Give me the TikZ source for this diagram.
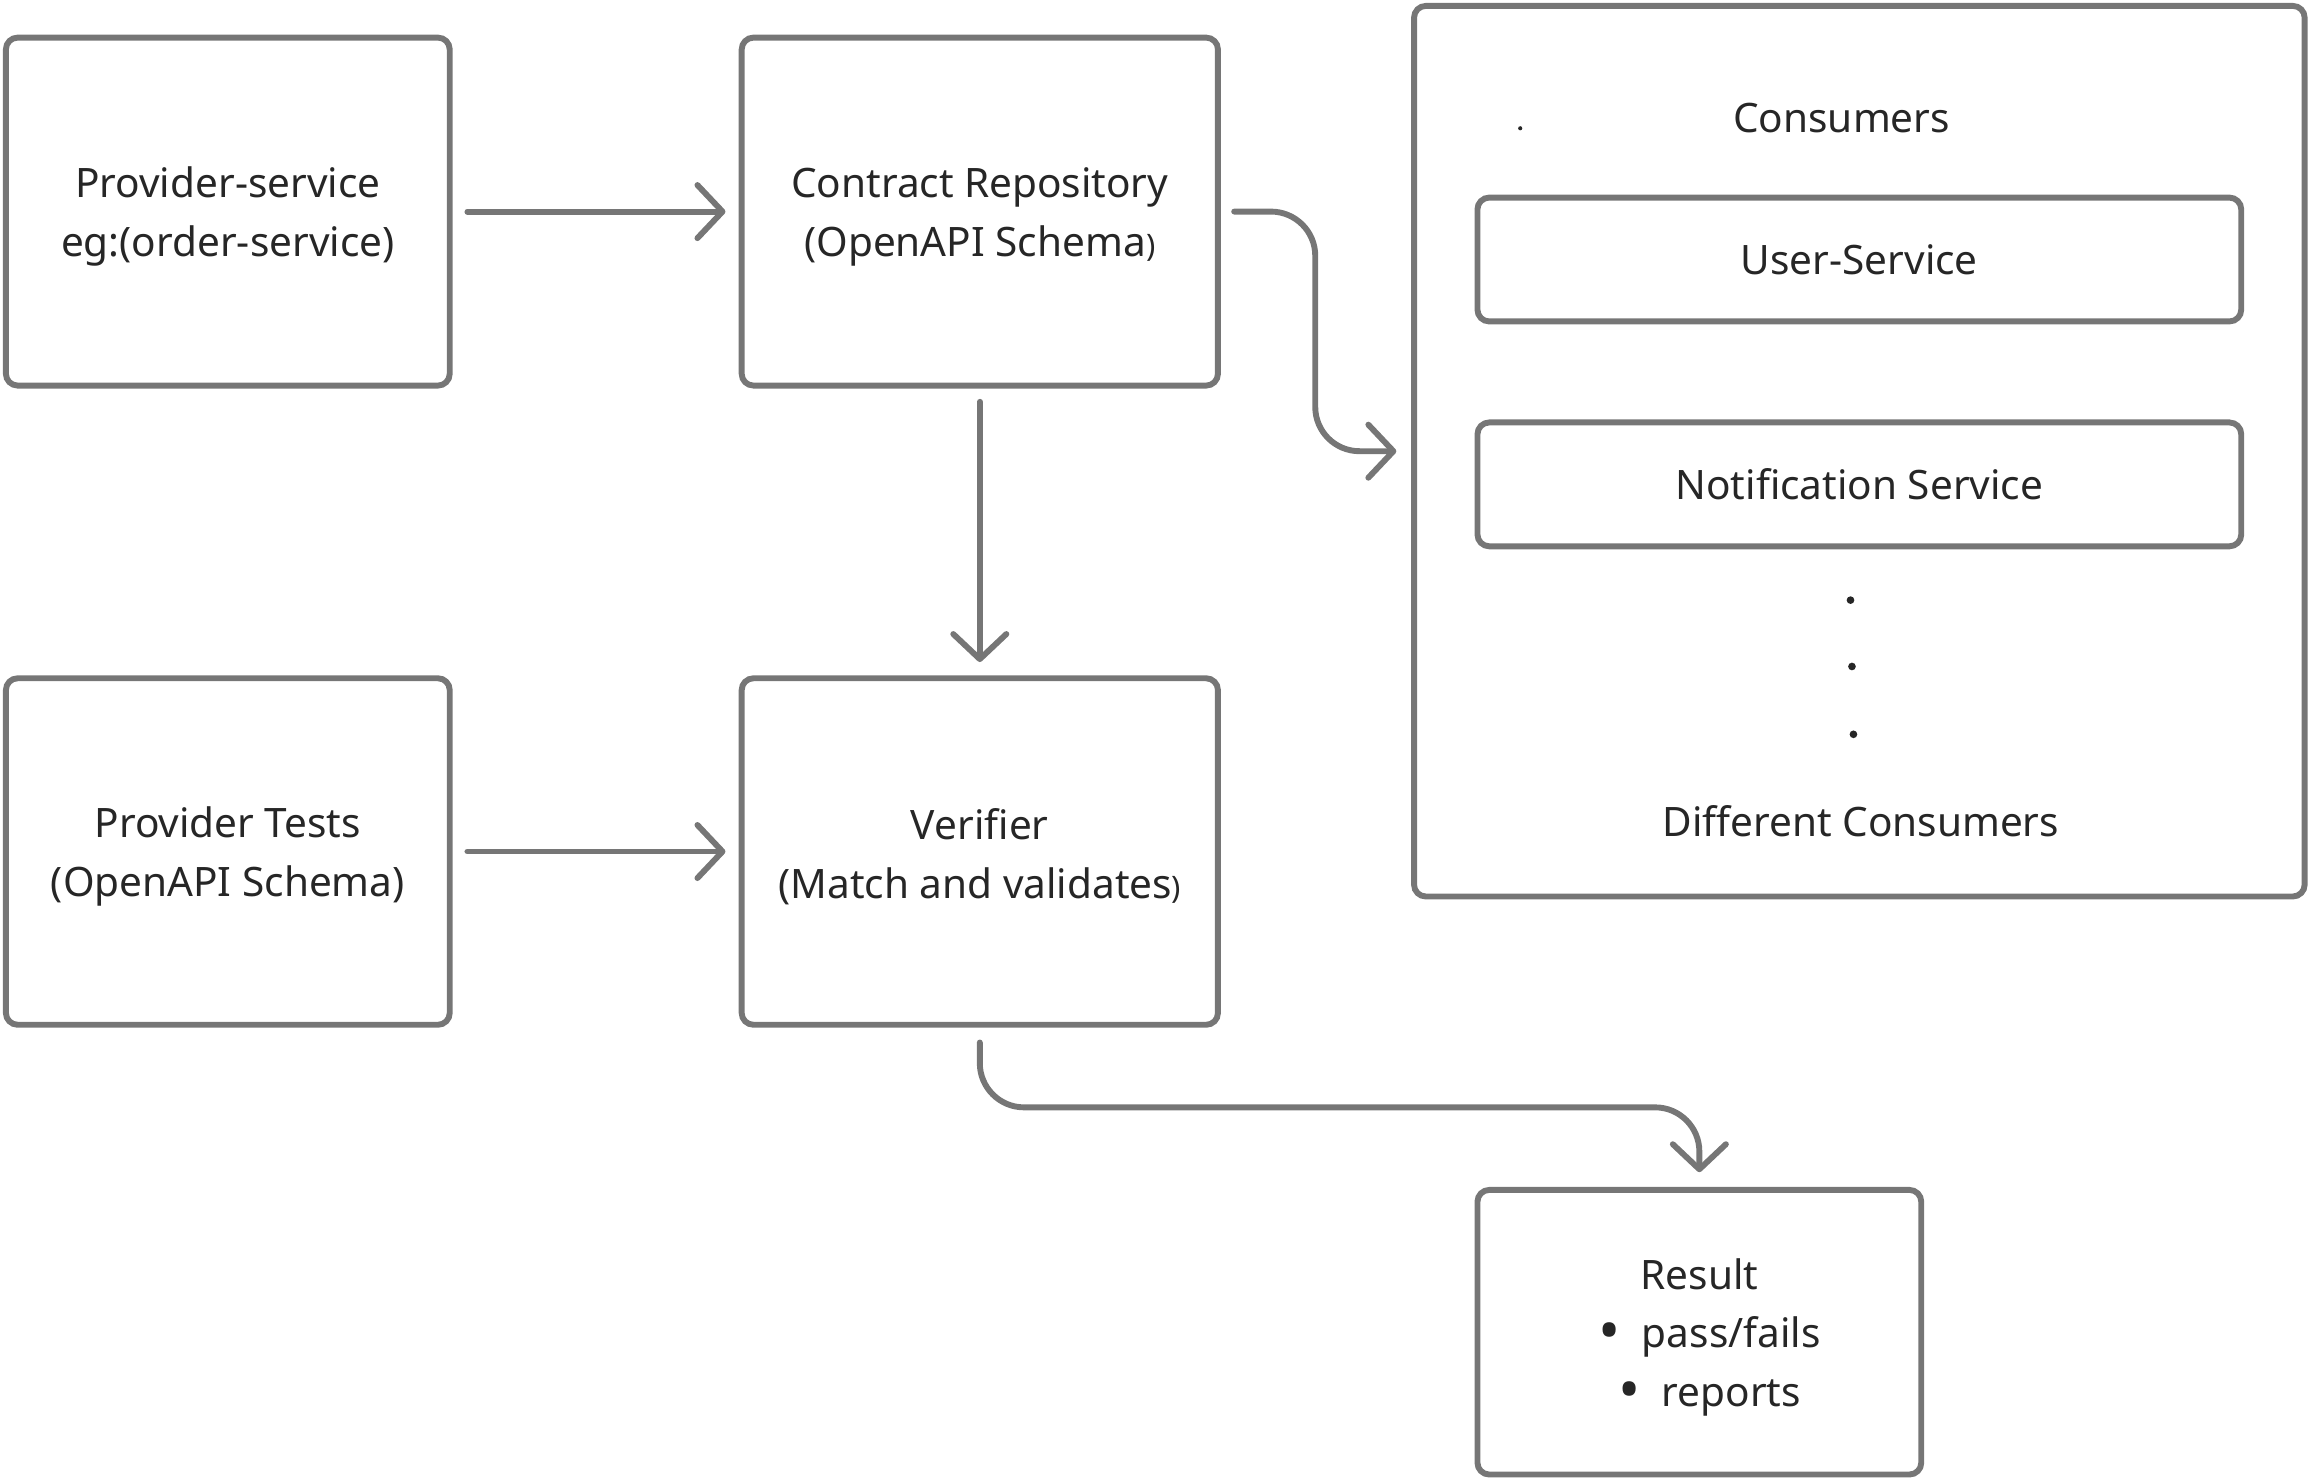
\documentclass[tikz,border=0pt]{standalone}
\usepackage{fontspec}
\setmainfont{Noto Sans}
\usetikzlibrary{arrows.meta}
\definecolor{linec}{HTML}{767676}
\definecolor{textc}{HTML}{262626}
\tikzset{
  box/.style={draw=linec, line width=4pt, rounded corners=8pt, inner sep=0pt,
    align=center, text=textc, font=\fontsize{27.5}{40}\selectfont},
  lbl/.style={inner sep=0pt, text=textc, font=\fontsize{27.5}{40}\selectfont, align=center},
  conn/.style={draw=linec, line width=4pt, line cap=round, line join=round,
    -{Straight Barb[length=17pt,width=36pt,round]}},
}
\newcommand{\smp}{{\fontsize{21}{40}\selectfont)}}
\newcommand{\tstr}{\rule{0pt}{28pt}}
\newcommand{\bul}{{\fontsize{40}{40}\selectfont\raisebox{-0.06em}{•}}}
\begin{document}
\begin{tikzpicture}[x=1pt,y=-1pt]
\useasboundingbox (0,0) rectangle (1568,1004);
% boxes
\node[box, minimum width=301pt, minimum height=236pt] (prov) at (154.5,143.5) {\tstr Provider-service\\eg:(order-service)};
\node[box, minimum width=323pt, minimum height=236pt] (repo) at (664.5,143.5) {\tstr Contract Repository\\(OpenAPI Schema\smp};
\node[box, minimum width=604pt, minimum height=604pt] (cons) at (1261,306) {};
\node[box, minimum width=518pt, minimum height=84pt] (user) at (1261,176) {User-Service};
\node[box, minimum width=518pt, minimum height=84pt] (notif) at (1261,328.5) {Notification Service};
\node[box, minimum width=301pt, minimum height=235pt] (tests) at (154.5,577.5) {\tstr Provider Tests\\(OpenAPI Schema)};
\node[box, minimum width=323pt, minimum height=235pt] (ver) at (664.5,577.5) {\tstr Verifier\\(Match and validates\smp};
\node[box, minimum width=301pt, minimum height=193pt] (res) at (1152.5,903.5) {\tstr Result\\\hspace*{14pt}\bul\ \ pass/fails\\\hspace*{14pt}\bul\ \ reports};
% labels inside consumers
\node[lbl] (constitle) at (1249,80) {Consumers};
\node[lbl] (diff) at (1262,557) {Different Consumers};
\fill[textc] (1031,87) circle (1.4pt);
\fill[textc] (1255,407) circle (2.6pt);
\fill[textc] (1256,452) circle (2.6pt);
\fill[textc] (1257,498) circle (2.6pt);
% connectors
\draw[conn] ([xshift=10pt]prov.east) -- ([xshift=-9pt]repo.west);
\draw[conn] ([xshift=10pt]tests.east) -- ([xshift=-9pt]ver.west);
\draw[conn] ([yshift=-9pt]repo.south) -- ([yshift=9pt]ver.north);
\draw[conn, rounded corners=30pt] ([xshift=9pt]repo.east) -| ([xshift=-65pt]cons.west) -- ([xshift=-10pt]cons.west);
\draw[conn, rounded corners=30pt] ([yshift=-10pt]ver.south) |- ([yshift=54pt]res.north) -- ([yshift=10pt]res.north);
\end{tikzpicture}
\end{document}
